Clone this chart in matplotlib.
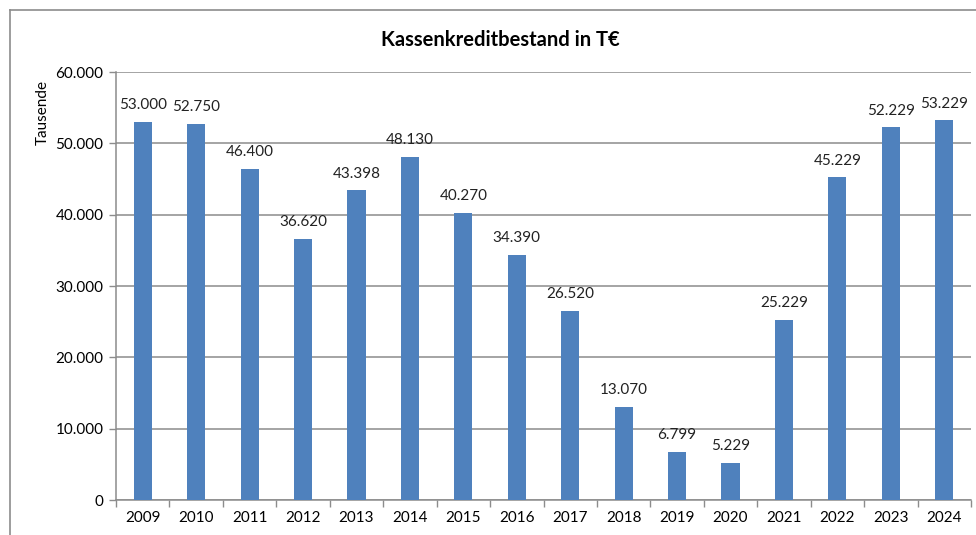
import matplotlib
matplotlib.use('Agg')
import matplotlib.pyplot as plt
from matplotlib.lines import Line2D
import numpy as np

plt.rcParams['font.family'] = ['Lato', 'DejaVu Sans']

years = ['2009', '2010', '2011', '2012', '2013', '2014', '2015', '2016',
         '2017', '2018', '2019', '2020', '2021', '2022', '2023', '2024']
values = [53000, 52750, 46400, 36620, 43398, 48130, 40270, 34390,
          26520, 13070, 6799, 5229, 25229, 45229, 52229, 53229]
yticks = [0, 10000, 20000, 30000, 40000, 50000, 60000]


def de_fmt(v):
    return f'{v:,.0f}'.replace(',', '.')


fig = plt.figure(figsize=(9.76, 5.35), dpi=100)
fig.patch.set_facecolor('white')

# outer chart frame (cropped on the right/bottom in the reference)
fig.add_artist(Line2D([10 / 976, 10 / 976], [0, 1 - 10 / 535], color='#8c8c8c', lw=1.2))
fig.add_artist(Line2D([10 / 976, 1], [1 - 10 / 535, 1 - 10 / 535], color='#8c8c8c', lw=1.2))

ax = fig.add_axes([116 / 976, 35 / 535, 855 / 976, 428 / 535])

x = np.arange(len(years))
ax.bar(x, values, width=0.34, color='#4F81BD', zorder=3)

for xi, v in zip(x, values):
    ax.annotate(de_fmt(v), (xi, v), xytext=(0, 7), textcoords='offset points',
                ha='center', va='bottom', fontsize=11, color='#222222')

ax.set_xlim(-0.5, 15.33)
ax.set_ylim(0, 60000)
ax.set_yticks(yticks)
ax.set_yticklabels([de_fmt(t) for t in yticks], fontsize=11)
ax.yaxis.grid(True, color='#8c8c8c', lw=1.1, zorder=0)

ax.set_xticks(x)
ax.set_xticklabels(years, fontsize=11)
ax.set_xticks(np.arange(-0.5, 16, 1), minor=True)
ax.tick_params(axis='x', which='major', length=0, pad=8)
ax.tick_params(axis='x', which='minor', length=5, color='#8c8c8c', width=1)
ax.tick_params(axis='y', length=5, color='#8c8c8c', width=1, pad=4)

for s in ['top', 'right']:
    ax.spines[s].set_visible(False)
for s in ['left', 'bottom']:
    ax.spines[s].set_color('#8c8c8c')
    ax.spines[s].set_linewidth(1.1)

fig.text(43 / 976, 1 - 112 / 535, 'Tausende', rotation=90, ha='center', va='center', fontsize=11)
fig.text(500 / 976, 1 - 40 / 535, 'Kassenkreditbestand in T€', ha='center', va='center',
         fontsize=14.5, fontweight='bold')

fig.savefig('out.png', dpi=100)
